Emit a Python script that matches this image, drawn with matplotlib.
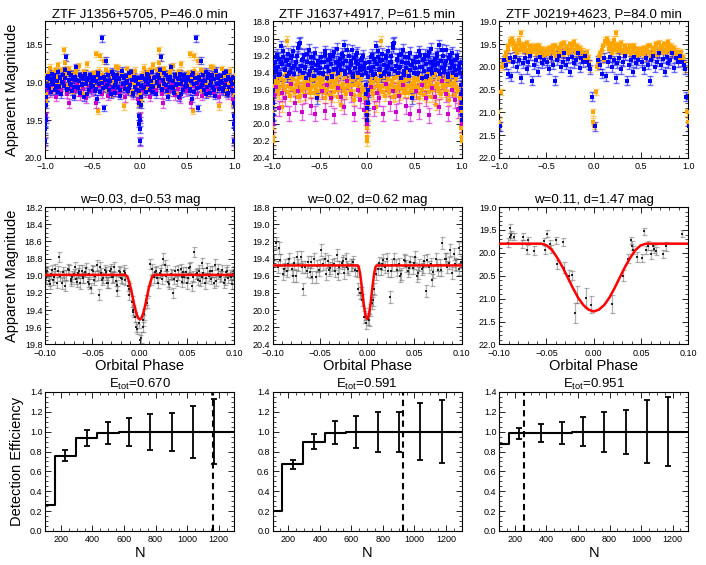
import numpy as np
import matplotlib
matplotlib.use('Agg')
import matplotlib.pyplot as plt
from matplotlib.ticker import MultipleLocator, AutoMinorLocator

plt.rcParams['font.family'] = ['Liberation Sans', 'DejaVu Sans']
plt.rcParams['mathtext.fontset'] = 'custom'
plt.rcParams['mathtext.rm'] = 'Liberation Sans'
plt.rcParams['mathtext.it'] = 'Liberation Sans:italic'

# ---------------- titles ----------------
top_titles = ['ZTF J1356+5705, P=46.0 min', 'ZTF J1637+4917, P=61.5 min', 'ZTF J0219+4623, P=84.0 min']
mid_titles = ['w=0.03, d=0.53 mag', 'w=0.02, d=0.62 mag', 'w=0.11, d=1.47 mag']
bot_titles = ['E$_{\\mathrm{tot}}$=0.670', 'E$_{\\mathrm{tot}}$=0.591', 'E$_{\\mathrm{tot}}$=0.951']

# ---------------- top row: folded light curves (phase in [-0.5, 0.5)) ----------------
# panel 1
b1_ph = [-0.497,-0.486,-0.474,-0.461,-0.452,-0.440,-0.428,-0.417,-0.404,-0.393,-0.381,-0.370,-0.358,-0.347,-0.333,
         -0.322,-0.311,-0.299,-0.287,-0.276,-0.263,-0.251,-0.240,-0.228,-0.216,-0.205,-0.193,-0.181,-0.170,-0.158,
         -0.146,-0.134,-0.122,-0.111,-0.099,-0.087,-0.075,-0.064,-0.052,-0.041,-0.029,-0.018,-0.009,-0.004,0.000,
         0.003,0.008,0.016,0.027,0.039,0.050,0.062,0.073,0.085,0.097,0.108,0.120,0.132,0.143,0.155,0.167,0.178,
         0.190,0.202,0.213,0.225,0.237,0.248,0.260,0.272,0.283,0.295,0.307,0.318,0.330,0.342,0.353,0.365,0.377,
         0.388,0.400,0.412,0.423,0.435,0.447,0.458,0.470,0.482,0.493,
         -0.491,-0.468,-0.446,-0.422,-0.399,-0.375,-0.352,-0.328,-0.305,-0.281,-0.258,-0.234,-0.211,-0.187,-0.164,
         -0.140,-0.117,-0.093,-0.070,-0.046,-0.023,-0.012,-0.006,0.005,0.012,0.022,0.045,0.068,0.091,0.114,0.137,
         0.161,0.184,0.207,0.230,0.253,0.277,0.300,0.323,0.346,0.370,0.393,0.416,0.440,0.463,0.486]
b1_mg = [19.05,18.93,19.12,18.98,19.22,18.88,19.02,18.95,18.42,19.08,19.34,18.97,18.72,19.04,18.91,
         19.10,18.99,18.86,19.06,18.94,19.14,19.00,18.90,19.07,18.96,19.18,18.85,19.03,18.95,19.09,
         18.92,19.01,19.12,18.88,19.04,18.97,19.15,18.93,19.06,18.99,19.10,18.95,19.28,19.55,19.78,
         19.62,19.30,19.05,18.92,19.08,18.96,19.13,18.89,19.02,18.94,19.11,18.98,18.87,19.07,18.95,19.16,19.00,
         18.91,19.05,18.84,18.67,19.09,18.97,19.03,18.90,19.12,18.96,19.06,18.93,18.80,19.08,18.99,19.14,18.92,
         19.04,18.95,19.20,18.89,19.03,18.97,19.10,18.91,19.06,18.98,
         18.96,19.09,18.90,19.13,19.01,18.93,19.07,18.98,19.16,18.89,19.04,18.95,19.11,18.92,19.03,
         18.99,19.08,18.87,19.14,18.96,19.02,19.12,19.45,19.50,19.20,18.94,19.06,18.98,18.90,19.05,19.13,
         18.93,19.01,18.95,19.10,18.88,19.04,19.19,18.97,19.07,18.91,19.02,18.96,19.15,18.94,19.03]
o1_ph = [-0.495,-0.480,-0.466,-0.452,-0.440,-0.425,-0.410,-0.396,-0.382,-0.367,-0.352,-0.338,-0.323,-0.309,-0.294,
         -0.280,-0.265,-0.251,-0.236,-0.222,-0.207,-0.193,-0.178,-0.164,-0.150,-0.135,-0.121,-0.106,-0.092,-0.077,
         -0.063,-0.048,-0.034,-0.020,-0.007,0.001,0.006,0.020,0.034,0.049,0.063,0.078,0.092,0.106,0.121,0.135,
         0.150,0.164,0.179,0.193,0.200,0.208,0.222,0.237,0.251,0.266,0.280,0.295,0.309,0.324,0.338,0.353,0.367,
         0.382,0.396,0.411,0.425,0.440,0.454,0.469,0.483,0.497,
         -0.488,-0.459,-0.431,-0.403,-0.374,-0.345,-0.316,-0.288,-0.259,-0.230,-0.201,-0.172,-0.143,-0.114,-0.085,
         -0.056,-0.027,-0.013,0.013,0.027,0.056,0.085,0.114,0.143,0.172,0.215,0.244,0.273,0.302,0.331,0.360,
         0.389,0.418,0.447,0.476]
o1_mg = [19.02,18.88,18.63,18.94,19.38,18.66,19.05,18.90,18.72,18.96,18.84,19.08,18.99,18.87,19.15,
         18.93,19.04,18.80,19.00,18.91,19.11,18.86,19.03,19.32,18.95,18.83,19.07,18.92,19.14,18.89,
         19.01,18.85,19.09,18.97,19.20,19.45,19.15,18.90,19.06,18.81,18.98,19.12,18.86,19.03,18.93,18.78,
         19.08,18.95,18.84,19.05,18.58,18.75,18.92,19.10,18.83,19.00,18.89,19.13,18.94,18.86,19.06,18.79,19.02,
         18.91,19.15,18.87,18.97,18.76,19.04,18.90,19.09,18.95,
         18.92,19.06,18.85,19.00,18.93,19.10,18.88,19.02,18.97,18.82,19.08,18.95,19.03,18.87,19.12,
         18.94,19.05,19.30,19.25,18.96,18.89,19.07,18.84,19.00,18.93,18.86,19.04,18.91,19.09,18.83,18.98,
         19.06,18.88,19.01,18.94]
m1_ph = [-0.49,-0.46,-0.43,-0.40,-0.37,-0.34,-0.31,-0.28,-0.25,-0.22,-0.19,-0.16,-0.13,-0.10,-0.07,-0.04,-0.015,
         -0.003,0.004,0.02,0.05,0.08,0.11,0.14,0.17,0.20,0.23,0.25,0.28,0.31,0.34,0.37,0.40,0.43,0.46,0.485]
m1_mg = [19.10,19.28,19.05,19.15,19.02,19.18,19.08,19.12,19.00,19.14,19.06,19.20,19.09,19.03,19.16,19.07,19.22,
         19.78,19.45,19.10,19.13,19.04,19.19,19.08,19.11,19.00,19.15,19.28,19.06,19.12,19.02,19.17,19.09,19.21,19.05,19.12]

# panel 2
b2_ph = [-0.494,-0.483,-0.471,-0.460,-0.448,-0.437,-0.425,-0.414,-0.402,-0.391,-0.379,-0.368,-0.356,-0.345,-0.333,
         -0.322,-0.310,-0.299,-0.287,-0.276,-0.264,-0.253,-0.241,-0.230,-0.218,-0.207,-0.195,-0.184,-0.172,-0.161,
         -0.149,-0.138,-0.126,-0.115,-0.103,-0.092,-0.080,-0.069,-0.057,-0.046,-0.034,-0.023,-0.012,-0.005,0.001,
         0.006,0.013,0.024,0.036,0.047,0.059,0.070,0.082,0.093,0.105,0.116,0.128,0.139,0.151,0.162,0.174,0.185,
         0.197,0.208,0.220,0.231,0.243,0.254,0.266,0.277,0.289,0.300,0.312,0.323,0.335,0.346,0.358,0.369,0.381,
         0.392,0.404,0.415,0.427,0.438,0.450,0.461,0.473,0.484,0.496,
         -0.489,-0.466,-0.443,-0.420,-0.397,-0.374,-0.351,-0.328,-0.305,-0.282,-0.259,-0.236,-0.213,-0.190,-0.167,
         -0.144,-0.121,-0.098,-0.075,-0.052,-0.029,-0.017,-0.008,0.003,0.009,0.019,0.041,0.064,0.087,0.110,0.133,
         0.156,0.179,0.202,0.225,0.248,0.271,0.294,0.317,0.340,0.363,0.386,0.409,0.432,0.455,0.478]
b2_mg = [19.35,19.22,19.41,19.28,19.15,19.33,19.46,19.25,19.38,19.19,19.30,19.44,19.21,19.36,19.27,
         19.12,19.40,19.31,19.24,19.37,19.18,19.29,19.08,19.42,19.26,19.34,19.20,19.39,19.30,19.14,
         19.45,19.23,19.35,19.28,19.17,19.40,19.32,19.25,19.43,19.20,19.36,19.29,19.55,19.82,19.95,
         19.75,19.45,19.27,19.38,19.19,19.33,19.24,19.41,19.09,19.30,19.22,19.37,19.26,19.44,19.18,19.31,19.39,
         19.23,19.34,19.15,19.42,19.28,19.21,19.36,19.06,19.05,19.32,19.25,19.40,19.19,19.33,19.46,19.27,19.13,
         19.38,19.22,19.35,19.29,19.44,19.17,19.31,19.70,19.26,19.40,
         19.28,19.40,19.19,19.33,19.24,19.45,19.16,19.36,19.27,19.31,19.21,19.38,19.13,19.34,19.26,
         19.42,19.19,19.30,19.37,19.23,19.33,19.40,19.65,19.90,19.60,19.35,19.22,19.43,19.28,19.15,19.36,
         19.25,19.41,19.20,19.32,19.27,19.11,19.38,19.24,19.34,19.18,19.43,19.29,19.22,19.37,19.31]
o2_ph = [-0.497,-0.485,-0.472,-0.460,-0.447,-0.435,-0.422,-0.410,-0.397,-0.385,-0.372,-0.360,-0.347,-0.335,-0.322,
         -0.310,-0.297,-0.285,-0.272,-0.260,-0.247,-0.235,-0.222,-0.210,-0.197,-0.185,-0.172,-0.160,-0.147,-0.135,
         -0.122,-0.110,-0.097,-0.085,-0.072,-0.060,-0.047,-0.035,-0.022,-0.010,-0.004,0.000,0.004,0.010,0.022,
         0.035,0.047,0.060,0.072,0.085,0.097,0.110,0.122,0.135,0.150,0.160,0.172,0.185,0.197,0.210,0.222,0.235,
         0.247,0.260,0.272,0.285,0.297,0.310,0.322,0.335,0.347,0.360,0.372,0.385,0.397,0.410,0.422,0.435,0.447,
         0.460,0.472,0.485,0.497,
         -0.491,-0.466,-0.441,-0.416,-0.391,-0.366,-0.341,-0.316,-0.291,-0.266,-0.241,-0.216,-0.191,-0.166,-0.141,
         -0.116,-0.091,-0.066,-0.041,-0.016,-0.007,0.002,0.007,0.016,0.041,0.066,0.091,0.116,0.141,0.166,0.191,
         0.216,0.241,0.266,0.291,0.316,0.341,0.366,0.391,0.416,0.441,0.466,0.491]
o2_mg = [19.55,19.62,19.48,19.58,19.70,19.45,19.60,19.52,19.66,19.50,19.57,19.42,19.63,19.54,19.47,
         19.68,19.56,19.40,19.78,19.53,19.59,19.46,19.65,19.51,19.57,19.38,19.62,19.55,19.49,19.72,
         19.54,19.44,19.60,19.52,19.66,19.48,19.58,19.63,19.70,19.85,20.05,20.20,20.00,19.78,19.56,
         19.47,19.62,19.51,19.58,19.43,19.80,19.53,19.49,19.60,19.03,19.56,19.45,19.67,19.52,19.59,19.41,19.63,
         19.55,19.50,19.68,19.46,19.57,19.61,19.44,19.54,19.66,19.49,19.58,19.52,19.62,19.39,19.56,19.64,19.48,
         19.59,19.53,19.67,19.50,
         19.58,19.49,19.64,19.45,19.56,19.68,19.51,19.60,19.43,19.57,19.62,19.50,19.55,19.47,19.66,
         19.53,19.59,19.44,19.61,19.75,19.95,20.15,19.90,19.60,19.52,19.65,19.48,19.56,19.42,19.63,19.54,
         19.47,19.60,19.52,19.67,19.45,19.58,19.51,19.64,19.49,19.56,19.62,19.46]
m2_ph = [-0.48,-0.45,-0.42,-0.38,-0.35,-0.31,-0.28,-0.24,-0.21,-0.17,-0.14,-0.10,-0.07,-0.035,-0.008,
         0.002,0.012,0.04,0.07,0.10,0.13,0.17,0.20,0.24,0.27,0.31,0.34,0.38,0.41,0.45]
m2_mg = [19.62,19.85,19.55,19.70,19.90,19.58,19.68,19.80,19.50,19.65,19.88,19.60,19.72,19.84,19.75,
         20.00,19.66,19.57,19.82,19.64,19.70,19.88,19.53,19.76,19.61,19.86,19.67,19.55,19.79,19.88]

# panel 3
o3_ph = [-0.495,-0.480,-0.465,-0.450,-0.435,-0.420,-0.405,-0.390,-0.375,-0.360,-0.345,-0.330,-0.315,-0.300,-0.285,
         -0.270,-0.255,-0.240,-0.225,-0.210,-0.195,-0.180,-0.165,-0.150,-0.135,-0.120,-0.105,-0.090,-0.075,-0.060,
         -0.045,-0.035,-0.012,-0.006,0.003,0.020,0.035,0.045,0.060,0.075,0.090,0.105,0.120,0.135,0.150,
         0.160,0.175,0.190,0.205,0.220,0.230,0.245,0.260,0.275,0.290,0.305,0.320,0.335,0.350,0.365,
         0.380,0.395,0.410,0.425,0.440,0.455,0.470,0.485,
         -0.488,-0.458,-0.428,-0.398,-0.368,-0.338,-0.308,-0.278,-0.248,-0.218,-0.188,-0.158,-0.128,-0.098,-0.068,
         0.068,0.098,0.128,0.158,0.188,0.213,0.238,0.268,0.298,0.328,0.358,0.388,0.418,0.448,0.478]
o3_mg = [19.65,19.72,19.58,19.80,19.62,19.70,19.55,19.75,19.60,19.68,19.52,19.74,19.47,19.63,19.56,
         19.70,19.50,19.66,19.58,19.45,19.62,19.55,19.70,19.60,19.78,19.66,19.72,19.85,19.68,19.80,
         19.92,20.05,21.00,21.20,21.30,20.55,20.00,19.90,19.78,19.70,19.62,19.85,19.42,19.38,19.45,
         19.60,19.55,19.70,19.50,19.63,19.25,19.52,19.65,19.58,19.48,19.70,19.62,19.55,19.68,19.60,
         19.57,19.72,19.63,19.55,19.68,19.60,19.74,19.66,
         19.60,19.68,19.55,19.72,19.58,19.50,19.65,19.57,19.62,19.52,19.70,19.58,19.66,19.74,19.78,
         19.72,19.55,19.45,19.50,19.62,19.40,19.58,19.52,19.65,19.57,19.63,19.55,19.60,19.70,19.64]
b3_ph = [-0.49,-0.47,-0.45,-0.43,-0.41,-0.39,-0.37,-0.35,-0.33,-0.31,-0.29,-0.27,-0.25,-0.23,-0.21,-0.19,
         -0.17,-0.15,-0.13,-0.11,-0.09,-0.07,-0.05,-0.035,-0.02,0.01,0.05,0.07,0.09,0.11,0.13,0.15,
         0.17,0.19,0.21,0.23,0.25,0.27,0.29,0.31,0.33,0.35,0.37,0.39,0.41,0.43,0.45,0.47]
b3_mg = [19.90,20.05,19.80,19.95,20.30,19.85,19.75,20.00,19.88,19.70,19.95,19.82,20.10,19.78,19.92,19.85,
         19.70,20.02,19.80,19.90,19.75,19.88,19.95,20.05,20.65,21.30,19.85,19.95,20.15,19.80,20.20,19.90,
         19.78,20.00,19.85,20.25,19.92,19.80,20.05,19.88,19.75,20.30,19.95,19.85,20.10,19.78,19.92,19.85]

# ---------------- middle row: eclipse zoom ----------------
mid1_ph = [-0.0995,-0.0978,-0.0951,-0.0937,-0.0914,-0.0896,-0.0872,-0.0851,-0.0839,-0.0812,
           -0.0793,-0.0776,-0.0748,-0.0731,-0.0714,-0.0688,-0.0671,-0.0653,-0.0629,-0.0612,
           -0.0597,-0.0569,-0.0552,-0.0534,-0.0511,-0.0493,-0.0472,-0.0456,-0.0431,-0.0414,
           -0.0398,-0.0371,-0.0355,-0.0332,-0.0316,-0.0291,-0.0274,-0.0253,-0.0236,-0.0212,
           -0.0194,-0.0171,-0.0152,-0.0128,-0.0109,-0.0087,-0.0068,-0.0047,-0.0026,-0.0008,
           0.0011,0.0029,0.0048,0.0069,0.0088,0.0107,0.0131,0.0149,0.0168,0.0192,
           0.0209,0.0231,0.0248,0.0273,0.0289,0.0312,0.0328,0.0351,0.0369,0.0392,
           0.0408,0.0433,0.0449,0.0471,0.0492,0.0509,0.0532,0.0548,0.0573,0.0591,
           0.0612,0.0629,0.0654,0.0671,0.0689,0.0713,0.0729,0.0752,0.0768,0.0791,
           0.0809,0.0832,0.0848,0.0873,0.0888,0.0912,0.0931,0.0949,0.0972,0.0991,
           -0.0987,-0.0962,-0.0925,-0.0903,-0.0863,-0.0826,-0.0801,-0.0763,-0.0724,-0.0697,
           -0.0662,-0.0638,-0.0604,-0.0578,-0.0541,-0.0502,-0.0481,-0.0443,-0.0423,-0.0384,
           -0.0362,-0.0343,-0.0301,-0.0282,-0.0244,-0.0221,-0.0183,-0.0161,-0.0118,-0.0076,
           -0.0036,0.0002,0.0038,0.0078,0.0119,0.0158,0.0181,0.0221,0.0262,0.0301,
           0.0337,0.0361,0.0401,0.0441,0.0461,0.0502,0.0521,0.0562,0.0601,0.0641,
           0.0662,0.0702,0.0741,0.0782,0.0822,0.0861,0.0901,0.0922,0.0962,0.0981]
mid1_mg = [19.02,18.95,19.10,18.98,19.05,18.92,19.08,18.78,19.00,18.96,
           19.12,18.99,18.93,19.06,19.01,18.90,19.04,18.97,19.09,18.94,
           19.03,18.91,19.07,18.98,19.14,18.95,19.00,18.88,19.22,18.97,
           19.05,18.93,18.99,19.08,18.95,19.02,18.90,19.06,19.18,18.96,
           19.03,18.94,19.05,19.12,19.22,19.30,19.42,19.48,19.62,19.55,
           19.72,19.60,19.45,19.28,19.18,18.86,18.92,19.02,18.95,19.08,
           18.97,19.04,18.80,19.00,18.93,19.10,18.98,19.20,18.95,19.06,
           18.99,18.92,19.07,19.01,18.96,19.03,18.90,19.12,18.72,18.98,
           19.05,18.94,19.02,18.97,19.09,18.91,19.00,19.04,18.95,18.87,
           19.06,18.98,19.01,18.93,19.08,18.96,19.03,18.99,19.10,18.95,
           18.97,19.06,18.93,19.01,18.95,19.09,18.99,18.92,19.04,18.98,
           19.07,18.94,19.02,18.96,19.10,18.93,19.05,18.99,18.90,19.03,
           18.96,19.08,18.92,19.01,19.11,18.95,19.04,18.97,19.15,19.40,
           19.60,19.75,19.52,19.32,19.05,18.96,19.03,18.94,18.88,19.07,
           18.99,19.04,18.93,19.02,18.96,19.09,18.91,19.01,18.97,19.06,
           18.85,19.03,18.95,19.08,18.92,19.00,19.05,18.94,19.02,18.98]
mid2_ph = [-0.0991,-0.0968,-0.0942,-0.0917,-0.0893,-0.0871,-0.0846,-0.0822,-0.0797,-0.0774,
           -0.0748,-0.0726,-0.0701,-0.0678,-0.0652,-0.0629,-0.0606,-0.0581,-0.0557,-0.0533,
           -0.0509,-0.0484,-0.0462,-0.0437,-0.0413,-0.0389,-0.0366,-0.0341,-0.0317,-0.0294,
           -0.0268,-0.0246,-0.0221,-0.0197,-0.0172,-0.0149,-0.0124,-0.0098,-0.0079,-0.0056,
           -0.0034,-0.0012,0.0009,0.0031,0.0053,0.0074,0.0096,0.0121,0.0147,0.0169,
           0.0192,0.0218,0.0242,0.0266,0.0289,0.0313,0.0338,0.0362,0.0386,0.0409,
           0.0434,0.0457,0.0482,0.0506,0.0531,0.0553,0.0578,0.0602,0.0627,0.0651,
           0.0674,0.0699,0.0723,0.0748,0.0771,0.0796,0.0819,0.0844,0.0868,0.0893,
           0.0917,0.0941,0.0966,0.0988,
           -0.0980,-0.0930,-0.0881,-0.0834,-0.0786,-0.0737,-0.0689,-0.0640,-0.0594,-0.0545,
           -0.0497,-0.0449,-0.0401,-0.0353,-0.0305,-0.0257,-0.0209,-0.0161,-0.0112,-0.0067,
           -0.0022,0.0020,0.0064,0.0110,0.0156,0.0205,0.0254,0.0301,0.0350,0.0398,
           0.0446,0.0494,0.0542,0.0590,0.0638,0.0686,0.0735,0.0783,0.0831,0.0880,
           0.0928,0.0976]
mid2_mg = [19.35,19.22,19.50,19.42,19.58,19.47,19.55,19.40,19.52,19.45,
           19.60,19.48,19.38,19.75,19.50,19.44,19.56,19.62,19.41,19.49,
           19.53,19.30,19.46,19.58,19.43,19.51,19.48,19.55,19.36,19.50,
           19.45,19.57,19.40,19.52,19.47,19.44,19.53,19.75,19.80,19.88,
           20.08,20.15,20.10,20.00,19.92,19.75,19.58,19.45,19.52,19.42,
           19.50,19.55,19.85,19.47,19.40,19.53,19.46,19.58,19.42,19.49,
           19.55,19.44,19.51,19.38,19.60,19.47,19.52,19.43,19.78,19.50,
           19.46,19.56,19.41,19.53,19.48,19.22,19.40,19.50,19.45,19.57,
           19.35,19.48,19.28,19.44,
           19.42,19.28,19.52,19.46,19.60,19.38,19.50,19.55,19.44,19.62,
           19.48,19.40,19.53,19.46,19.58,19.43,19.50,19.47,19.55,19.80,
           20.05,20.12,19.88,19.52,19.46,19.40,19.55,19.48,19.60,19.43,
           19.51,19.45,19.57,19.50,19.42,19.65,19.48,19.53,19.40,19.30,
           19.46,19.52]
mid3_ph = [-0.0905,-0.0887,-0.0884,-0.0870,-0.0840,-0.0756,-0.0745,-0.0710,-0.0695,-0.0634,
           -0.0528,-0.0518,-0.0493,-0.0466,-0.0448,-0.0402,-0.0388,-0.0325,-0.0318,-0.0262,
           -0.0230,-0.0198,-0.0177,-0.0086,-0.0033,0.0192,0.0308,0.0364,0.0399,0.0406,
           0.0413,0.0459,0.0515,0.0532,0.0550,0.0569,0.0607,0.0628,0.0635,0.0656,
           0.0730,0.0766,0.0931]
mid3_mg = [19.78,19.65,19.46,19.60,19.65,19.81,19.65,19.93,19.73,19.95,
           19.75,19.94,19.58,19.81,19.91,19.73,20.25,19.76,20.32,20.50,
           20.49,21.32,20.91,20.99,21.13,21.12,20.50,20.13,19.73,19.84,
           19.94,20.09,20.11,19.53,19.94,19.84,20.03,19.86,19.92,19.96,
           20.03,19.86,19.58]
mid3_er = [0.10,0.08,0.10,0.08,0.08,0.09,0.08,0.10,0.08,0.09,
           0.08,0.09,0.08,0.08,0.09,0.08,0.10,0.09,0.11,0.12,
           0.10,0.22,0.18,0.22,0.18,0.20,0.12,0.10,0.08,0.10,
           0.09,0.10,0.09,0.08,0.09,0.09,0.10,0.08,0.09,0.08,
           0.09,0.09,0.08]

# model curves
mod1_x = [-0.1,-0.015,-0.0131,-0.0113,-0.0094,-0.0075,-0.0056,-0.0038,-0.0019,0.0,
          0.0019,0.0038,0.0056,0.0075,0.0094,0.0113,0.0131,0.015,0.1]
mod1_y = [18.99,18.99,19.01,19.07,19.15,19.25,19.35,19.43,19.49,19.51,
          19.49,19.43,19.35,19.25,19.15,19.07,19.01,18.99,18.99]
mod2_x = [-0.1,-0.01,-0.0088,-0.0075,-0.0063,-0.005,-0.0038,-0.0025,-0.0013,0.0,
          0.0013,0.0025,0.0038,0.005,0.0063,0.0075,0.0088,0.01,0.1]
mod2_y = [19.48,19.48,19.50,19.57,19.67,19.79,19.91,20.01,20.08,20.10,
          20.08,20.01,19.91,19.79,19.67,19.57,19.50,19.48,19.48]
mod3_x = [-0.1,-0.055,-0.0495,-0.044,-0.0385,-0.033,-0.0275,-0.022,-0.0165,-0.011,-0.0055,0.0,
          0.0055,0.011,0.0165,0.022,0.0275,0.033,0.0385,0.044,0.0495,0.055,0.1]
mod3_y = [19.80,19.80,19.84,19.94,20.11,20.31,20.54,20.77,20.98,21.14,21.24,21.28,
          21.24,21.14,20.98,20.77,20.54,20.31,20.11,19.94,19.84,19.80,19.80]

# ---------------- bottom row: detection efficiency ----------------
N_centers = [92.5, 227.5, 362.5, 497.5, 632.5, 767.5, 902.5, 1037.5, 1172.5, 1307.5]
eff1 = [0.26, 0.76, 0.94, 0.99, 1.0, 1.0, 1.0, 1.0, 1.0, 1.0]
eff2 = [0.20, 0.67, 0.90, 0.99, 1.0, 1.0, 1.0, 1.0, 1.0, 1.0]
eff3 = [0.88, 0.985, 0.99, 0.985, 1.0, 1.0, 1.0, 1.0, 1.0, 1.0]
err1 = [0.0, 0.055, 0.08, 0.11, 0.14, 0.18, 0.19, 0.26, 0.33, 0.0]
err2 = [0.0, 0.045, 0.075, 0.115, 0.16, 0.20, 0.20, 0.29, 0.32, 0.0]
err3 = [0.0, 0.055, 0.09, 0.11, 0.145, 0.20, 0.22, 0.32, 0.35, 0.0]
vline_N = [1165, 930, 260]

# ---------------- figure ----------------
fig = plt.figure(figsize=(7.06, 5.65), dpi=100)
lefts = [0.064, 0.386, 0.707]
W = 0.268
rows = [(0.7204, 0.2416), (0.3903, 0.2433), (0.0602, 0.246)]

BLUE = '#0000ff'
ORANGE = '#ffa500'
MAG = '#cc00cc'


def style(ax, xmaj, xminor_n, ymaj, yminor_n):
    ax.xaxis.set_major_locator(MultipleLocator(xmaj))
    ax.xaxis.set_minor_locator(AutoMinorLocator(xminor_n))
    ax.yaxis.set_major_locator(MultipleLocator(ymaj))
    ax.yaxis.set_minor_locator(AutoMinorLocator(yminor_n))
    ax.tick_params(which='both', direction='in', top=True, right=True, labelsize=6.5)
    ax.tick_params(axis='y', pad=2)
    ax.tick_params(axis='x', pad=3)
    ax.tick_params(which='major', length=4, width=0.6)
    ax.tick_params(which='minor', length=2, width=0.5)
    for sp in ax.spines.values():
        sp.set_linewidth(0.8)


def folded(ax, ph, mg, err, color):
    ph = np.asarray(ph)
    mg = np.asarray(mg)
    for shift in (-1, 0, 1):
        x = ph + shift
        ax.errorbar(x, mg, yerr=err, fmt='none', ecolor=color, alpha=0.55,
                    elinewidth=1.0, capsize=2.0, capthick=1.0, zorder=2)
        ax.plot(x, mg, 's', color=color, ms=2.3, mew=0, zorder=3)


top_data = [
    [(o1_ph, o1_mg, ORANGE), (m1_ph, m1_mg, MAG), (b1_ph, b1_mg, BLUE)],
    [(o2_ph, o2_mg, ORANGE), (m2_ph, m2_mg, MAG), (b2_ph, b2_mg, BLUE)],
    [(o3_ph, o3_mg, ORANGE), (b3_ph, b3_mg, BLUE)],
]
top_err_map = [
    {ORANGE: 0.045, MAG: 0.06, BLUE: 0.045},
    {ORANGE: 0.06, MAG: 0.09, BLUE: 0.065},
    {ORANGE: 0.07, BLUE: 0.10},
]
top_ylims = [(20.0, 18.2), (20.4, 18.8), (22.0, 19.0)]
top_ymaj = [0.5, 0.2, 0.5]

for i in range(3):
    ax = fig.add_axes([lefts[i], rows[0][0], W, rows[0][1]])
    for ph, mg, col in top_data[i]:
        folded(ax, ph, mg, top_err_map[i][col], col)
    ax.set_xlim(-1.0, 1.0)
    ax.set_ylim(*top_ylims[i])
    style(ax, 0.5, 5, top_ymaj[i], 5 if top_ymaj[i] == 0.5 else 4)
    ax.set_title(top_titles[i], fontsize=9.5, pad=3)
    if i == 0:
        ax.set_ylabel('Apparent Magnitude', fontsize=10.5)

# middle row
mid_data = [(mid1_ph, mid1_mg, 0.06), (mid2_ph, mid2_mg, 0.07), (mid3_ph, mid3_mg, mid3_er)]
mod_data = [(mod1_x, mod1_y), (mod2_x, mod2_y), (mod3_x, mod3_y)]
mid_ylims = [(19.8, 18.2), (20.4, 18.8), (22.0, 19.0)]
mid_ymaj = [0.2, 0.2, 0.5]
for i in range(3):
    ax = fig.add_axes([lefts[i], rows[1][0], W, rows[1][1]])
    ph, mg, er = mid_data[i]
    ax.errorbar(ph, mg, yerr=er, fmt='none', ecolor='#555555', alpha=0.45,
                elinewidth=0.9, capsize=1.8, capthick=0.9, zorder=2)
    ax.plot(ph, mg, 's', color='#222222', ms=1.8, mew=0, zorder=3)
    mx, my = mod_data[i]
    ax.plot(mx, my, '-', color='red', lw=1.8, zorder=4)
    ax.set_xlim(-0.1, 0.1)
    ax.set_ylim(*mid_ylims[i])
    style(ax, 0.05, 5, mid_ymaj[i], 4 if mid_ymaj[i] == 0.2 else 5)
    ax.set_title(mid_titles[i], fontsize=9.5, pad=3)
    ax.set_xlabel('Orbital Phase', fontsize=10.5, labelpad=1)
    if i == 0:
        ax.set_ylabel('Apparent Magnitude', fontsize=10.5)

# bottom row
effs = [eff1, eff2, eff3]
errs = [err1, err2, err3]
for i in range(3):
    ax = fig.add_axes([lefts[i], rows[2][0], W, rows[2][1]])
    ax.step(N_centers, effs[i], where='mid', color='black', lw=1.5, zorder=3)
    ax.errorbar(N_centers, effs[i], yerr=errs[i], fmt='none', ecolor='black',
                elinewidth=1.3, capsize=2.5, capthick=1.3, zorder=3)
    ax.axvline(vline_N[i], color='black', ls='--', lw=1.5, dashes=(3, 2), zorder=4)
    ax.set_xlim(100, 1300)
    ax.set_ylim(0.0, 1.4)
    style(ax, 200, 4, 0.2, 4)
    ax.set_title(bot_titles[i], fontsize=9.5, pad=3)
    ax.set_xlabel('N', fontsize=10.5, labelpad=1)
    if i == 0:
        ax.set_ylabel('Detection Efficiency', fontsize=10.5)

fig.savefig('out.png', dpi=100)
